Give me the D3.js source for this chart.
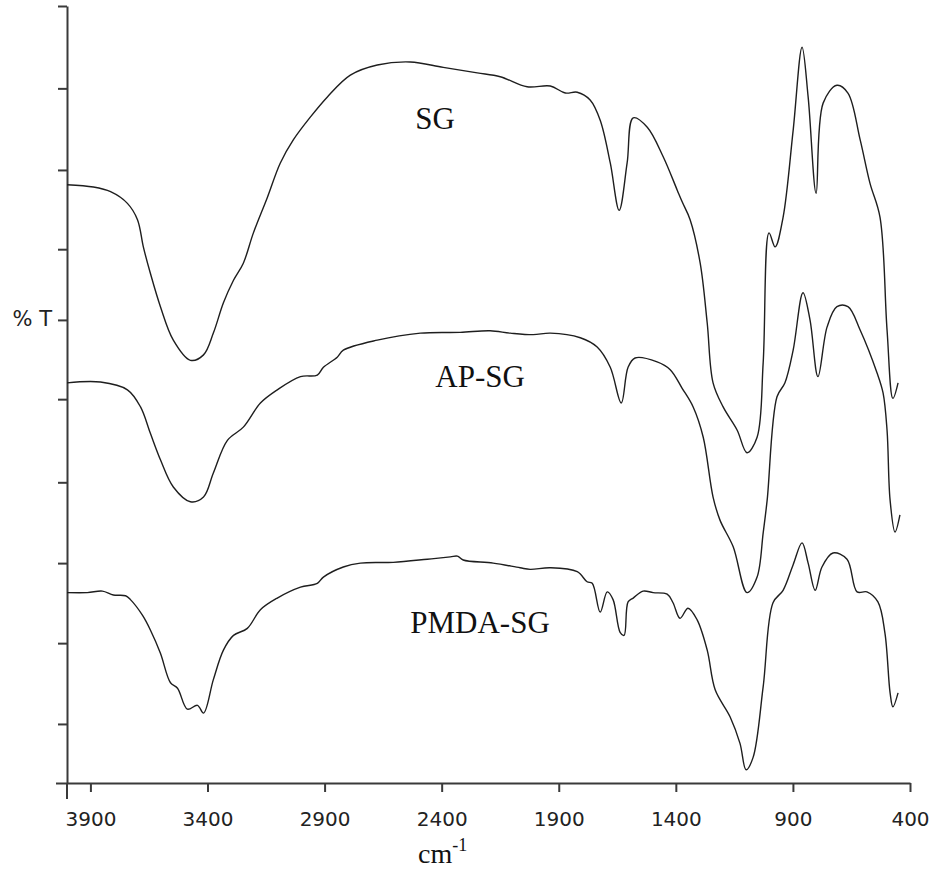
<!DOCTYPE html>
<html>
<head>
<meta charset="utf-8">
<title>FTIR spectra</title>
<script src="https://cdn.jsdelivr.net/npm/d3@7"></script>
<style>
    body { margin: 0; background: #fff; }
    svg { display: block; }
    .curve { fill: none; stroke: #1e1e1e; stroke-width: 1.4; stroke-linejoin: round; }
    .axis path, .axis line { stroke: #3a3a3a; stroke-width: 2; }
    .axis text { font-family: "DejaVu Sans", Verdana, sans-serif; font-size: 20px; fill: #222; }
    .label { font-family: "Liberation Serif", "Times New Roman", serif; fill: #111; }
</style>
</head>
<body>
<svg id="chart" width="934" height="873"></svg>
<script>
"use strict";

// Spectra: wavenumber (cm-1) and %T (arbitrary offset)
var sgWave = [4000, 3887, 3814, 3742, 3699, 3674, 3644, 3601, 3546, 3473, 3417, 3375, 3332, 3289,
    3247, 3204, 3144, 3089, 3033, 2961, 2888, 2790, 2675, 2534, 2393, 2248, 2150, 2035, 1936, 1872,
    1821, 1766, 1723, 1680, 1642, 1608, 1582, 1522, 1454, 1394, 1373, 1339, 1296, 1266, 1241, 1198,
    1138, 1096, 1053, 1027, 1002, 976, 942, 899, 861, 835, 801, 771, 712, 665, 613, 571, 528, 498,
    473, 451];
var sgT = [77.0, 76.7, 76.1, 74.6, 72.5, 69.0, 65.6, 61.3, 57.0, 54.4, 55.1, 57.9, 61.8, 64.7,
    66.9, 70.8, 75.4, 79.8, 82.8, 85.7, 88.3, 91.1, 92.4, 92.8, 92.1, 91.4, 90.9, 89.6, 89.7, 88.8,
    88.9, 87.9, 85.3, 79.8, 73.7, 79.8, 85.6, 84.4, 80.6, 76.3, 74.8, 72.5, 66.9, 59.2, 51.5, 48.4,
    45.4, 42.5, 44.5, 54.1, 70.8, 69.0, 72.8, 84.0, 94.7, 88.3, 75.9, 87.5, 89.8, 88.8, 82.8, 77.2,
    72.8, 58.3, 49.5, 51.5];

var apWave = [4000, 3857, 3742, 3686, 3644, 3601, 3546, 3473, 3417, 3375, 3315, 3247, 3174, 3102,
    3003, 2931, 2905, 2846, 2820, 2675, 2491, 2321, 2193, 2107, 2009, 1936, 1808, 1736, 1680, 1633,
    1604, 1574, 1480, 1424, 1373, 1326, 1283, 1241, 1211, 1155, 1096, 1053, 1027, 1010, 968, 934,
    899, 857, 827, 793, 754, 712, 665, 613, 541, 515, 498, 485, 464, 443];
var apT = [51.5, 51.6, 50.6, 48.4, 45.0, 41.6, 38.1, 36.2, 36.8, 39.9, 44.1, 45.8, 48.9, 50.6,
    52.3, 52.5, 53.5, 54.8, 55.7, 57.0, 57.9, 58.0, 58.2, 57.9, 57.7, 57.9, 57.3, 56.1, 53.5, 48.9,
    53.5, 54.7, 54.2, 53.2, 50.8, 48.4, 44.5, 36.8, 33.8, 30.4, 24.5, 26.5, 32.2, 36.4, 49.7, 51.5,
    55.7, 63.1, 59.6, 52.3, 58.7, 61.3, 61.3, 58.3, 52.8, 50.2, 45.4, 36.4, 32.3, 34.5];

var pmdaWave = [4000, 3913, 3849, 3802, 3750, 3729, 3678, 3644, 3601, 3558, 3528, 3486, 3443, 3417,
    3375, 3332, 3289, 3230, 3174, 3102, 3003, 2931, 2905, 2820, 2747, 2607, 2461, 2363, 2333, 2308,
    2180, 2065, 2022, 1936, 1821, 1779, 1757, 1723, 1693, 1668, 1638, 1621, 1604, 1582, 1540, 1497,
    1437, 1412, 1382, 1348, 1309, 1266, 1232, 1168, 1126, 1100, 1070, 1027, 985, 942, 899, 861, 835,
    805, 776, 729, 669, 626, 584, 537, 507, 485, 473, 451];
var pmdaT = [24.5, 24.5, 24.7, 24.2, 24.1, 23.6, 21.6, 19.7, 16.7, 12.9, 12.2, 9.5, 10.0, 9.0,
    13.3, 17.1, 19.0, 19.9, 22.3, 23.8, 25.2, 25.7, 26.5, 27.8, 28.3, 28.4, 28.8, 29.1, 29.2, 28.7,
    28.3, 27.7, 27.5, 27.7, 27.2, 25.9, 25.7, 22.0, 24.6, 23.6, 19.4, 19.0, 23.3, 23.8, 24.7, 24.5,
    24.3, 23.2, 21.2, 22.5, 21.0, 17.1, 12.0, 8.5, 5.1, 1.7, 3.3, 12.4, 23.2, 24.8, 28.1, 30.9, 28.3,
    24.8, 27.8, 29.6, 28.8, 24.6, 24.6, 23.3, 19.3, 11.6, 9.8, 11.6];

var seriesNames = ["SG", "AP-SG", "PMDA-SG"];
// where each series name sits (wavenumber, %T of the text baseline)
var nameWave = [2513, 2427, 2534];
var nameT = [84.2, 51.0, 19.3];

var xTickValues = [3900, 3400, 2900, 2400, 1900, 1400, 900, 400];
// unlabelled %T ticks, as spaced on the original axis
var yTickValues = [0, 7.6, 18.0, 28.3, 38.7, 49.4, 59.6, 68.7, 78.9, 89.4, 100];

var svg = d3.select("#chart");

var x = d3.scaleLinear().domain([4000, 400]).range([67, 910]);
var y = d3.scaleLinear().domain([0, 100]).range([783, 6]);

function zip(waves, ts) {
    return waves.map(function (w, i) { return [w, ts[i]]; });
}

var spectra = [zip(sgWave, sgT), zip(apWave, apT), zip(pmdaWave, pmdaT)];

// Axes
var yAxis = svg.append("g")
    .attr("class", "axis")
    .attr("transform", "translate(" + x(4000) + ",0)")
    .call(d3.axisLeft(y).tickValues(yTickValues).tickSize(9).tickSizeOuter(0).tickFormat(""));
// the zero tick runs a little further left, as on the original
yAxis.selectAll(".tick line").filter(function (d) { return d === 0; }).attr("x2", -11);

var xAxis = svg.append("g")
    .attr("class", "axis")
    .attr("transform", "translate(0," + y(0) + ")")
    .call(d3.axisBottom(x).tickValues(xTickValues).tickSize(9).tickSizeOuter(0)
        .tickFormat(d3.format("d")));
xAxis.selectAll("text").attr("dy", null).attr("y", 43);

// y axis line carries on below the x axis
svg.append("line")
    .attr("x1", x(4000)).attr("x2", x(4000))
    .attr("y1", y(0)).attr("y2", y(0) + 16)
    .attr("stroke", "#3a3a3a").attr("stroke-width", 2);

// Curves
var line = d3.line()
    .x(function (d) { return x(d[0]); })
    .y(function (d) { return y(d[1]); })
    .curve(d3.curveCatmullRom.alpha(0.5));

svg.selectAll("path.curve")
    .data(spectra)
    .enter().append("path")
    .attr("class", "curve")
    .attr("d", line);

// Series names
svg.selectAll("text.name")
    .data(seriesNames)
    .enter().append("text")
    .attr("class", "label name")
    .attr("x", function (d, i) { return x(nameWave[i]); })
    .attr("y", function (d, i) { return y(nameT[i]); })
    .attr("font-size", 31)
    .text(function (d) { return d; });

// Axis titles
svg.append("text")
    .attr("x", 52).attr("y", 326)
    .attr("text-anchor", "end")
    .attr("font-family", "'DejaVu Sans', Verdana, sans-serif")
    .attr("font-size", 21)
    .attr("fill", "#222")
    .text("% T");

var unit = svg.append("text")
    .attr("class", "label")
    .attr("x", 418).attr("y", 863)
    .attr("font-size", 28);
unit.append("tspan").text("cm");
unit.append("tspan").attr("font-size", 18).attr("dy", -12).text("-1");
</script>
</body>
</html>
